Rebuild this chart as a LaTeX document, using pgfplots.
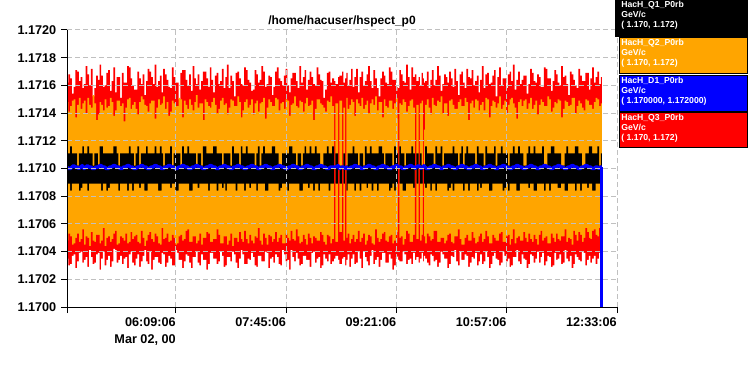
\documentclass[border=0pt]{standalone}
\usepackage{fontspec}
\setmainfont{Liberation Sans}
\usepackage{pgfplots}
\pgfplotsset{compat=1.18}
\usepackage{pgfplotstable}
\definecolor{qorange}{RGB}{255,165,0}
\definecolor{gridgray}{RGB}{192,192,192}
\pgfplotstableread{
t rh rl oh ol kh kl b
274 1.17162 1.17035 1.17148 1.17048 1.17111 1.17089 1.17101
275.5 1.17168 1.17030 1.17141 1.17053 1.17111 1.17089 1.17100
277 1.17165 1.17031 1.17145 1.17051 1.17116 1.17084 1.17100
278.5 1.17154 1.17037 1.17149 1.17045 1.17111 1.17089 1.17101
280 1.17159 1.17038 1.17150 1.17046 1.17111 1.17089 1.17102
281.5 1.17171 1.17028 1.17137 1.17050 1.17111 1.17089 1.17101
283 1.17170 1.17033 1.17146 1.17053 1.17102 1.17089 1.17101
284.5 1.17163 1.17039 1.17151 1.17047 1.17111 1.17084 1.17100
286 1.17166 1.17040 1.17143 1.17049 1.17111 1.17086 1.17101
287.5 1.17158 1.17032 1.17147 1.17056 1.17116 1.17089 1.17102
289 1.17161 1.17034 1.17149 1.17045 1.17111 1.17089 1.17100
290.5 1.17174 1.17036 1.17140 1.17051 1.17111 1.17089 1.17101
292 1.17168 1.17029 1.17151 1.17050 1.17116 1.17084 1.17102
293.5 1.17160 1.17041 1.17146 1.17044 1.17111 1.17089 1.17101
295 1.17172 1.17036 1.17144 1.17054 1.17111 1.17089 1.17101
296.5 1.17152 1.17031 1.17153 1.17048 1.17102 1.17089 1.17100
298 1.17158 1.17032 1.17147 1.17047 1.17111 1.17089 1.17100
299.5 1.17167 1.17038 1.17135 1.17052 1.17111 1.17089 1.17101
301 1.17164 1.17039 1.17139 1.17052 1.17102 1.17089 1.17101
302.5 1.17175 1.17027 1.17148 1.17046 1.17116 1.17089 1.17102
304 1.17167 1.17035 1.17146 1.17048 1.17116 1.17084 1.17102
305.5 1.17159 1.17040 1.17142 1.17057 1.17111 1.17089 1.17101
307 1.17160 1.17030 1.17150 1.17044 1.17111 1.17089 1.17101
308.5 1.17169 1.17034 1.17144 1.17050 1.17111 1.17084 1.17100
310 1.17171 1.17037 1.17145 1.17051 1.17111 1.17086 1.17100
311.5 1.17156 1.17029 1.17151 1.17047 1.17111 1.17089 1.17101
313 1.17163 1.17033 1.17148 1.17049 1.17111 1.17089 1.17101
314.5 1.17173 1.17042 1.17138 1.17053 1.17116 1.17089 1.17102
316 1.17155 1.17041 1.17142 1.17055 1.17116 1.17089 1.17102
317.5 1.17166 1.17032 1.17149 1.17045 1.17111 1.17089 1.17101
319 1.17166 1.17034 1.17149 1.17046 1.17102 1.17084 1.17101
320.5 1.17151 1.17037 1.17145 1.17051 1.17111 1.17089 1.17100
322 1.17169 1.17031 1.17147 1.17050 1.17111 1.17089 1.17100
323.5 1.17162 1.17035 1.17134 1.17048 1.17111 1.17089 1.17101
325 1.17162 1.17036 1.17144 1.17053 1.17111 1.17089 1.17101
326.5 1.17174 1.17028 1.17150 1.17046 1.17111 1.17084 1.17102
328 1.17173 1.17038 1.17151 1.17047 1.17116 1.17089 1.17102
329.5 1.17165 1.17040 1.17143 1.17054 1.17111 1.17089 1.17101
331 1.17160 1.17032 1.17146 1.17049 1.17111 1.17084 1.17101
332.5 1.17157 1.17030 1.17148 1.17051 1.17102 1.17089 1.17100
334 1.17157 1.17035 1.17143 1.17052 1.17111 1.17089 1.17100
335.5 1.17170 1.17038 1.17139 1.17047 1.17116 1.17089 1.17101
337 1.17165 1.17029 1.17148 1.17046 1.17102 1.17086 1.17101
338.5 1.17161 1.17033 1.17152 1.17055 1.17111 1.17089 1.17102
340 1.17168 1.17037 1.17150 1.17050 1.17111 1.17089 1.17102
341.5 1.17153 1.17041 1.17146 1.17044 1.17111 1.17084 1.17101
343 1.17163 1.17033 1.17145 1.17048 1.17116 1.17084 1.17101
344.5 1.17172 1.17031 1.17141 1.17052 1.17111 1.17089 1.17100
346 1.17170 1.17040 1.17147 1.17054 1.17111 1.17089 1.17100
347.5 1.17166 1.17027 1.17149 1.17049 1.17111 1.17089 1.17101
349 1.17161 1.17034 1.17149 1.17047 1.17111 1.17089 1.17101
350.5 1.17175 1.17036 1.17136 1.17053 1.17116 1.17089 1.17102
352 1.17159 1.17036 1.17144 1.17051 1.17111 1.17089 1.17102
353.5 1.17163 1.17032 1.17150 1.17046 1.17111 1.17084 1.17101
355 1.17167 1.17031 1.17146 1.17045 1.17116 1.17084 1.17101
356.5 1.17155 1.17039 1.17147 1.17057 1.17111 1.17089 1.17100
358 1.17172 1.17038 1.17152 1.17049 1.17102 1.17089 1.17100
359.5 1.17168 1.17029 1.17143 1.17050 1.17111 1.17089 1.17101
361 1.17164 1.17032 1.17148 1.17053 1.17111 1.17089 1.17101
362.5 1.17159 1.17037 1.17138 1.17047 1.17111 1.17089 1.17102
364 1.17158 1.17035 1.17141 1.17048 1.17116 1.17086 1.17102
365.5 1.17173 1.17030 1.17149 1.17052 1.17102 1.17089 1.17101
367 1.17166 1.17030 1.17147 1.17050 1.17111 1.17089 1.17101
368.5 1.17162 1.17041 1.17145 1.17045 1.17111 1.17084 1.17100
370 1.17162 1.17039 1.17145 1.17046 1.17111 1.17084 1.17100
371.5 1.17150 1.17034 1.17151 1.17051 1.17111 1.17089 1.17101
373 1.17169 1.17034 1.17150 1.17052 1.17102 1.17089 1.17101
374.5 1.17171 1.17028 1.17137 1.17048 1.17116 1.17089 1.17102
376 1.17171 1.17033 1.17149 1.17049 1.17111 1.17089 1.17102
377.5 1.17164 1.17038 1.17146 1.17055 1.17111 1.17089 1.17101
379 1.17160 1.17037 1.17143 1.17056 1.17116 1.17089 1.17101
380.5 1.17168 1.17032 1.17150 1.17047 1.17111 1.17084 1.17100
382 1.17156 1.17028 1.17146 1.17047 1.17111 1.17084 1.17100
383.5 1.17174 1.17036 1.17142 1.17051 1.17111 1.17089 1.17101
385 1.17165 1.17036 1.17148 1.17051 1.17111 1.17089 1.17101
386.5 1.17161 1.17040 1.17153 1.17046 1.17102 1.17089 1.17102
388 1.17168 1.17032 1.17144 1.17048 1.17111 1.17086 1.17102
389.5 1.17157 1.17030 1.17147 1.17053 1.17111 1.17089 1.17101
391 1.17163 1.17038 1.17147 1.17045 1.17102 1.17089 1.17101
392.5 1.17170 1.17034 1.17135 1.17050 1.17116 1.17089 1.17100
394 1.17170 1.17034 1.17150 1.17050 1.17116 1.17089 1.17100
395.5 1.17165 1.17027 1.17148 1.17054 1.17111 1.17089 1.17101
397 1.17159 1.17031 1.17145 1.17053 1.17111 1.17084 1.17101
398.5 1.17173 1.17039 1.17144 1.17047 1.17111 1.17089 1.17102
400 1.17164 1.17039 1.17148 1.17047 1.17111 1.17089 1.17102
401.5 1.17155 1.17035 1.17151 1.17049 1.17116 1.17089 1.17101
403 1.17167 1.17035 1.17146 1.17049 1.17116 1.17089 1.17101
404.5 1.17169 1.17031 1.17140 1.17056 1.17111 1.17084 1.17100
406 1.17161 1.17033 1.17143 1.17052 1.17111 1.17089 1.17100
407.5 1.17163 1.17040 1.17149 1.17046 1.17111 1.17089 1.17101
409 1.17172 1.17037 1.17151 1.17046 1.17102 1.17086 1.17101
410.5 1.17158 1.17029 1.17146 1.17051 1.17111 1.17089 1.17102
412 1.17166 1.17030 1.17147 1.17051 1.17111 1.17084 1.17102
413.5 1.17175 1.17036 1.17139 1.17045 1.17111 1.17089 1.17101
415 1.17158 1.17036 1.17144 1.17048 1.17111 1.17089 1.17101
416.5 1.17167 1.17033 1.17150 1.17053 1.17102 1.17089 1.17100
418 1.17163 1.17040 1.17149 1.17044 1.17116 1.17089 1.17100
419.5 1.17152 1.17038 1.17145 1.17050 1.17111 1.17089 1.17101
421 1.17169 1.17032 1.17145 1.17050 1.17111 1.17084 1.17101
422.5 1.17170 1.17028 1.17152 1.17047 1.17111 1.17089 1.17102
424 1.17165 1.17035 1.17148 1.17054 1.17102 1.17089 1.17102
425.5 1.17161 1.17041 1.17137 1.17049 1.17116 1.17089 1.17101
427 1.17160 1.17038 1.17142 1.17047 1.17111 1.17089 1.17101
428.5 1.17173 1.17031 1.17148 1.17055 1.17111 1.17084 1.17100
430 1.17171 1.17031 1.17150 1.17049 1.17116 1.17089 1.17100
431.5 1.17164 1.17035 1.17144 1.17046 1.17111 1.17089 1.17101
433 1.17162 1.17034 1.17146 1.17052 1.17111 1.17086 1.17101
434.5 1.17156 1.17039 1.17150 1.17048 1.17111 1.17089 1.17102
436 1.17157 1.17036 1.17139 1.17046 1.17111 1.17089 1.17102
437.5 1.17171 1.17030 1.17147 1.17051 1.17102 1.17089 1.17101
439 1.17168 1.17029 1.17149 1.17050 1.17111 1.17084 1.17101
440.5 1.17162 1.17037 1.17141 1.17057 1.17116 1.17089 1.17100
442 1.17164 1.17037 1.17147 1.17048 1.17102 1.17089 1.17100
443.5 1.17174 1.17033 1.17148 1.17045 1.17111 1.17089 1.17101
445 1.17170 1.17033 1.17151 1.17053 1.17116 1.17089 1.17101
446.5 1.17159 1.17040 1.17136 1.17050 1.17111 1.17084 1.17102
448 1.17161 1.17039 1.17144 1.17045 1.17111 1.17084 1.17102
449.5 1.17167 1.17028 1.17150 1.17052 1.17111 1.17089 1.17101
451 1.17166 1.17035 1.17148 1.17051 1.17111 1.17089 1.17101
452.5 1.17153 1.17036 1.17145 1.17047 1.17116 1.17089 1.17100
454 1.17159 1.17032 1.17145 1.17049 1.17116 1.17089 1.17100
455.5 1.17170 1.17038 1.17151 1.17054 1.17111 1.17089 1.17101
457 1.17173 1.17036 1.17150 1.17047 1.17111 1.17089 1.17101
458.5 1.17165 1.17031 1.17142 1.17050 1.17102 1.17084 1.17102
460 1.17163 1.17030 1.17147 1.17052 1.17102 1.17086 1.17102
461.5 1.17160 1.17041 1.17148 1.17046 1.17111 1.17089 1.17101
463 1.17167 1.17038 1.17143 1.17046 1.17111 1.17089 1.17101
464.5 1.17172 1.17033 1.17150 1.17053 1.17111 1.17089 1.17100
466 1.17160 1.17034 1.17149 1.17050 1.17111 1.17084 1.17100
467.5 1.17155 1.17027 1.17138 1.17048 1.17116 1.17089 1.17101
469 1.17165 1.17041 1.17146 1.17055 1.17116 1.17089 1.17101
470.5 1.17169 1.17036 1.17147 1.17049 1.17111 1.17089 1.17102
472 1.17169 1.17033 1.17152 1.17048 1.17111 1.17089 1.17102
473.5 1.17163 1.17039 1.17145 1.17056 1.17102 1.17089 1.17101
475 1.17158 1.17035 1.17144 1.17051 1.17111 1.17089 1.17101
476.5 1.17174 1.17030 1.17149 1.17046 1.17111 1.17084 1.17100
478 1.17162 1.17031 1.17148 1.17047 1.17102 1.17084 1.17100
479.5 1.17166 1.17037 1.17141 1.17052 1.17111 1.17089 1.17101
481 1.17171 1.17037 1.17147 1.17049 1.17116 1.17089 1.17101
482.5 1.17157 1.17034 1.17151 1.17045 1.17111 1.17089 1.17102
484 1.17164 1.17034 1.17145 1.17053 1.17111 1.17086 1.17102
485.5 1.17170 1.17029 1.17146 1.17050 1.17116 1.17089 1.17101
487 1.17166 1.17039 1.17149 1.17046 1.17111 1.17089 1.17101
488.5 1.17161 1.17040 1.17135 1.17051 1.17111 1.17084 1.17100
490 1.17160 1.17032 1.17143 1.17050 1.17116 1.17089 1.17100
491.5 1.17173 1.17035 1.17150 1.17048 1.17111 1.17089 1.17101
493 1.17168 1.17036 1.17150 1.17048 1.17111 1.17084 1.17101
494.5 1.17164 1.17028 1.17147 1.17054 1.17102 1.17089 1.17102
496 1.17163 1.17030 1.17146 1.17052 1.17102 1.17089 1.17102
497.5 1.17151 1.17038 1.17144 1.17047 1.17111 1.17089 1.17101
499 1.17157 1.17035 1.17141 1.17045 1.17111 1.17089 1.17101
500.5 1.17169 1.17033 1.17149 1.17052 1.17116 1.17089 1.17100
502 1.17170 1.17038 1.17148 1.17051 1.17111 1.17084 1.17100
503.5 1.17162 1.17031 1.17152 1.17046 1.17111 1.17089 1.17101
505 1.17165 1.17033 1.17145 1.17049 1.17116 1.17089 1.17101
506.8 1.17163 1.17035 1.17100 1.17100 1.17100 1.17100 1.17101
507.9 1.17161 1.17037 1.17147 1.17047 1.17111 1.17089 1.17101
510.3 1.17166 1.17034 1.17100 1.17100 1.17100 1.17100 1.17102
511.4 1.17167 1.17031 1.17149 1.17054 1.17102 1.17089 1.17100
513.8 1.17170 1.17035 1.17100 1.17100 1.17100 1.17100 1.17101
514.9 1.17162 1.17036 1.17144 1.17048 1.17111 1.17089 1.17101
516.4 1.17165 1.17030 1.17100 1.17100 1.17100 1.17100 1.17100
517.5 1.17169 1.17034 1.17151 1.17050 1.17102 1.17084 1.17101
518.5 1.17160 1.17038 1.17143 1.17053 1.17111 1.17089 1.17100
520 1.17164 1.17029 1.17146 1.17046 1.17111 1.17089 1.17100
521.5 1.17172 1.17035 1.17150 1.17049 1.17111 1.17089 1.17101
523 1.17159 1.17038 1.17148 1.17052 1.17116 1.17089 1.17101
524.5 1.17166 1.17031 1.17138 1.17047 1.17111 1.17084 1.17102
526 1.17172 1.17032 1.17150 1.17049 1.17111 1.17089 1.17102
527.5 1.17155 1.17040 1.17147 1.17055 1.17102 1.17089 1.17101
529 1.17166 1.17035 1.17145 1.17047 1.17111 1.17084 1.17101
530.5 1.17170 1.17028 1.17151 1.17050 1.17111 1.17089 1.17100
532 1.17160 1.17040 1.17143 1.17053 1.17102 1.17089 1.17100
533.5 1.17163 1.17036 1.17146 1.17045 1.17116 1.17089 1.17101
535 1.17168 1.17033 1.17149 1.17048 1.17111 1.17086 1.17101
536.5 1.17174 1.17030 1.17140 1.17052 1.17111 1.17089 1.17102
538 1.17163 1.17037 1.17147 1.17051 1.17116 1.17089 1.17102
539.5 1.17158 1.17041 1.17150 1.17046 1.17111 1.17084 1.17101
541 1.17171 1.17031 1.17146 1.17045 1.17111 1.17089 1.17101
542.5 1.17165 1.17034 1.17152 1.17056 1.17111 1.17089 1.17100
544 1.17158 1.17036 1.17142 1.17050 1.17111 1.17084 1.17100
545.5 1.17152 1.17029 1.17148 1.17047 1.17116 1.17089 1.17101
547 1.17165 1.17034 1.17148 1.17049 1.17116 1.17089 1.17101
548.5 1.17170 1.17039 1.17137 1.17053 1.17111 1.17089 1.17102
550 1.17167 1.17039 1.17150 1.17054 1.17102 1.17089 1.17102
551.5 1.17162 1.17032 1.17145 1.17048 1.17111 1.17089 1.17101
553 1.17161 1.17032 1.17144 1.17047 1.17111 1.17089 1.17101
554.5 1.17173 1.17038 1.17149 1.17051 1.17111 1.17084 1.17100
556 1.17170 1.17035 1.17149 1.17052 1.17111 1.17086 1.17100
557.5 1.17164 1.17027 1.17143 1.17046 1.17102 1.17089 1.17101
559 1.17164 1.17030 1.17147 1.17048 1.17116 1.17084 1.17101
560.5 1.17159 1.17036 1.17151 1.17054 1.17111 1.17089 1.17102
562 1.17156 1.17037 1.17136 1.17046 1.17111 1.17089 1.17102
562.6 1.17158 1.17034 1.17100 1.17100 1.17100 1.17100 1.17101
563.5 1.17171 1.17033 1.17147 1.17050 1.17116 1.17089 1.17101
565 1.17168 1.17033 1.17146 1.17051 1.17111 1.17089 1.17101
566.5 1.17163 1.17040 1.17150 1.17045 1.17111 1.17084 1.17100
568 1.17162 1.17038 1.17148 1.17049 1.17102 1.17084 1.17100
569.5 1.17175 1.17031 1.17141 1.17055 1.17111 1.17089 1.17101
571 1.17166 1.17034 1.17145 1.17053 1.17111 1.17089 1.17101
572.5 1.17157 1.17035 1.17149 1.17047 1.17111 1.17089 1.17102
574 1.17173 1.17031 1.17150 1.17047 1.17116 1.17089 1.17102
575.5 1.17166 1.17039 1.17144 1.17052 1.17111 1.17086 1.17101
577 1.17160 1.17036 1.17143 1.17050 1.17111 1.17089 1.17101
577.2 1.17168 1.17034 1.17100 1.17100 1.17100 1.17100 1.17100
578.3 1.17163 1.17036 1.17146 1.17049 1.17111 1.17089 1.17101
580.4 1.17166 1.17032 1.17100 1.17100 1.17100 1.17100 1.17102
581.5 1.17160 1.17035 1.17147 1.17048 1.17111 1.17089 1.17101
583 1.17169 1.17039 1.17149 1.17052 1.17102 1.17089 1.17100
584 1.17165 1.17033 1.17100 1.17100 1.17100 1.17100 1.17101
585 1.17162 1.17037 1.17128 1.17051 1.17102 1.17089 1.17102
586 1.17163 1.17035 1.17146 1.17046 1.17116 1.17086 1.17101
587.5 1.17170 1.17032 1.17150 1.17053 1.17111 1.17089 1.17100
589 1.17158 1.17030 1.17144 1.17051 1.17111 1.17089 1.17100
590.5 1.17164 1.17038 1.17139 1.17048 1.17111 1.17084 1.17101
592 1.17171 1.17037 1.17151 1.17049 1.17111 1.17089 1.17101
593.5 1.17160 1.17033 1.17146 1.17055 1.17102 1.17089 1.17102
595 1.17164 1.17034 1.17145 1.17055 1.17116 1.17084 1.17102
596.5 1.17174 1.17029 1.17149 1.17047 1.17111 1.17089 1.17101
598 1.17167 1.17032 1.17148 1.17047 1.17111 1.17089 1.17101
599.5 1.17156 1.17040 1.17152 1.17050 1.17116 1.17089 1.17100
601 1.17161 1.17038 1.17140 1.17050 1.17102 1.17089 1.17100
602.5 1.17168 1.17035 1.17147 1.17046 1.17111 1.17089 1.17101
604 1.17166 1.17035 1.17147 1.17048 1.17111 1.17089 1.17101
605.5 1.17162 1.17028 1.17138 1.17052 1.17111 1.17084 1.17102
607 1.17170 1.17031 1.17149 1.17053 1.17111 1.17086 1.17102
608.5 1.17165 1.17037 1.17150 1.17047 1.17111 1.17089 1.17101
610 1.17159 1.17036 1.17146 1.17046 1.17116 1.17084 1.17101
611.5 1.17172 1.17041 1.17143 1.17051 1.17111 1.17089 1.17100
613 1.17163 1.17033 1.17143 1.17051 1.17111 1.17089 1.17100
614.5 1.17153 1.17030 1.17148 1.17056 1.17102 1.17089 1.17101
616 1.17168 1.17040 1.17150 1.17049 1.17111 1.17089 1.17101
617.5 1.17170 1.17034 1.17145 1.17045 1.17116 1.17089 1.17102
619 1.17162 1.17034 1.17145 1.17045 1.17102 1.17084 1.17102
620.5 1.17158 1.17038 1.17151 1.17050 1.17111 1.17089 1.17101
622 1.17172 1.17037 1.17148 1.17052 1.17116 1.17089 1.17101
623.5 1.17166 1.17029 1.17135 1.17048 1.17111 1.17084 1.17100
625 1.17165 1.17032 1.17147 1.17048 1.17111 1.17089 1.17100
626.5 1.17171 1.17036 1.17149 1.17054 1.17111 1.17089 1.17101
628 1.17160 1.17035 1.17144 1.17050 1.17111 1.17089 1.17101
629.5 1.17163 1.17039 1.17150 1.17046 1.17102 1.17089 1.17102
631 1.17167 1.17030 1.17149 1.17047 1.17116 1.17084 1.17102
632.5 1.17155 1.17033 1.17142 1.17051 1.17111 1.17089 1.17101
634 1.17164 1.17038 1.17146 1.17053 1.17111 1.17086 1.17101
635.5 1.17174 1.17031 1.17148 1.17047 1.17111 1.17089 1.17100
637 1.17158 1.17033 1.17142 1.17049 1.17102 1.17089 1.17100
638.5 1.17168 1.17040 1.17151 1.17055 1.17116 1.17089 1.17101
640 1.17169 1.17036 1.17150 1.17051 1.17111 1.17089 1.17101
641.5 1.17161 1.17028 1.17137 1.17046 1.17111 1.17084 1.17102
643 1.17162 1.17031 1.17145 1.17046 1.17111 1.17084 1.17102
644.5 1.17167 1.17037 1.17149 1.17052 1.17111 1.17089 1.17101
646 1.17171 1.17039 1.17148 1.17050 1.17116 1.17089 1.17101
647.5 1.17152 1.17035 1.17144 1.17048 1.17102 1.17089 1.17100
649 1.17166 1.17034 1.17147 1.17048 1.17111 1.17089 1.17100
650.5 1.17173 1.17030 1.17152 1.17053 1.17111 1.17089 1.17101
652 1.17160 1.17032 1.17143 1.17054 1.17116 1.17089 1.17101
653.5 1.17165 1.17040 1.17146 1.17047 1.17111 1.17084 1.17102
655 1.17165 1.17037 1.17149 1.17047 1.17111 1.17086 1.17102
656.5 1.17158 1.17033 1.17140 1.17051 1.17111 1.17089 1.17101
658 1.17168 1.17035 1.17146 1.17052 1.17102 1.17084 1.17101
659.5 1.17170 1.17029 1.17150 1.17045 1.17111 1.17089 1.17100
661 1.17163 1.17030 1.17151 1.17049 1.17111 1.17089 1.17100
662.5 1.17175 1.17036 1.17147 1.17056 1.17116 1.17089 1.17101
664 1.17157 1.17036 1.17144 1.17046 1.17111 1.17089 1.17101
665.5 1.17164 1.17041 1.17136 1.17050 1.17111 1.17084 1.17102
667 1.17170 1.17033 1.17148 1.17051 1.17116 1.17084 1.17102
668.5 1.17161 1.17031 1.17150 1.17048 1.17111 1.17089 1.17101
670 1.17164 1.17038 1.17145 1.17048 1.17111 1.17089 1.17101
671.5 1.17167 1.17035 1.17149 1.17054 1.17102 1.17089 1.17100
673 1.17167 1.17034 1.17150 1.17050 1.17102 1.17089 1.17100
674.5 1.17154 1.17028 1.17143 1.17047 1.17111 1.17089 1.17101
676 1.17161 1.17031 1.17147 1.17053 1.17116 1.17086 1.17101
677.5 1.17172 1.17038 1.17151 1.17049 1.17111 1.17089 1.17102
679 1.17169 1.17037 1.17143 1.17047 1.17111 1.17089 1.17102
680.5 1.17163 1.17032 1.17146 1.17052 1.17116 1.17084 1.17101
682 1.17162 1.17035 1.17149 1.17049 1.17111 1.17084 1.17101
683.5 1.17168 1.17040 1.17139 1.17045 1.17111 1.17089 1.17100
685 1.17166 1.17032 1.17146 1.17052 1.17111 1.17089 1.17100
686.5 1.17159 1.17036 1.17150 1.17055 1.17111 1.17089 1.17101
688 1.17159 1.17039 1.17148 1.17048 1.17116 1.17089 1.17101
689.5 1.17173 1.17030 1.17145 1.17050 1.17102 1.17084 1.17102
691 1.17172 1.17033 1.17145 1.17051 1.17102 1.17089 1.17102
692.5 1.17165 1.17037 1.17152 1.17046 1.17111 1.17089 1.17101
694 1.17165 1.17036 1.17150 1.17046 1.17111 1.17084 1.17101
695.5 1.17156 1.17029 1.17141 1.17053 1.17116 1.17089 1.17100
697 1.17163 1.17030 1.17144 1.17050 1.17116 1.17089 1.17100
698.5 1.17171 1.17039 1.17148 1.17047 1.17111 1.17089 1.17101
700 1.17168 1.17034 1.17147 1.17053 1.17111 1.17089 1.17101
701.5 1.17162 1.17035 1.17150 1.17049 1.17111 1.17086 1.17102
703 1.17160 1.17038 1.17149 1.17048 1.17111 1.17086 1.17102
704.5 1.17174 1.17031 1.17137 1.17051 1.17102 1.17089 1.17101
706 1.17166 1.17032 1.17143 1.17051 1.17102 1.17089 1.17101
707.5 1.17167 1.17041 1.17149 1.17056 1.17111 1.17084 1.17100
709 1.17161 1.17035 1.17148 1.17047 1.17116 1.17084 1.17100
710.5 1.17153 1.17033 1.17145 1.17050 1.17111 1.17089 1.17101
712 1.17170 1.17037 1.17146 1.17049 1.17111 1.17089 1.17101
713.5 1.17168 1.17028 1.17151 1.17045 1.17111 1.17089 1.17102
715 1.17164 1.17031 1.17151 1.17055 1.17111 1.17089 1.17102
716.5 1.17160 1.17038 1.17140 1.17052 1.17116 1.17084 1.17101
718 1.17158 1.17036 1.17145 1.17048 1.17116 1.17089 1.17101
719.5 1.17172 1.17034 1.17149 1.17054 1.17111 1.17089 1.17100
721 1.17167 1.17033 1.17147 1.17052 1.17111 1.17084 1.17100
722.5 1.17163 1.17040 1.17144 1.17047 1.17102 1.17089 1.17101
724 1.17163 1.17039 1.17142 1.17050 1.17102 1.17089 1.17101
725.5 1.17169 1.17030 1.17150 1.17057 1.17111 1.17089 1.17102
727 1.17169 1.17034 1.17149 1.17054 1.17111 1.17086 1.17102
728.5 1.17157 1.17037 1.17146 1.17050 1.17116 1.17089 1.17101
730 1.17165 1.17032 1.17146 1.17049 1.17116 1.17089 1.17101
731.5 1.17173 1.17035 1.17143 1.17055 1.17111 1.17084 1.17100
733 1.17162 1.17037 1.17148 1.17056 1.17111 1.17084 1.17100
734.5 1.17166 1.17031 1.17151 1.17052 1.17111 1.17089 1.17101
736 1.17170 1.17035 1.17150 1.17051 1.17116 1.17089 1.17101
737.5 1.17161 1.17039 1.17145 1.17057 1.17102 1.17089 1.17100
739 1.17166 1.17033 1.17147 1.17053 1.17111 1.17089 1.17101
740 1.17166 1.17033 1.17147 1.17053 1.17111 1.17089 1.17101
}\data

\begin{document}
\begin{tikzpicture}
\useasboundingbox (0,0) rectangle (561pt,281.25pt);
\begin{axis}[
  at={(50.25pt,51pt)}, anchor=south west,
  width=412.5pt, height=207.75pt, scale only axis,
  xmin=274.2, xmax=753.1, ymin=1.1700, ymax=1.1720,
  axis x line*=bottom, axis y line*=left,
  axis line style={black, line width=0.75pt, -},
  grid=major,
  grid style={gridgray, dash pattern=on 3.75pt off 2.25pt, line width=0.75pt},
  axis on top,
  tick align=outside, major tick length=4.5pt,
  tick style={black, line width=0.75pt},
  xtick={274.2,369.1,465.1,561.1,657.1,753.1},
  xticklabels={,{06:09:06\\Mar 02, 00},07:45:06,09:21:06,10:57:06,12:33:06},
  xticklabel style={anchor=north east, align=right, inner xsep=0pt,
    font=\fontsize{9.5}{12.75}\selectfont\bfseries},
  ytick={1.1700,1.1702,1.1704,1.1706,1.1708,1.1710,1.1712,1.1714,1.1716,1.1718,1.1720},
  yticklabels={1.1700,1.1702,1.1704,1.1706,1.1708,1.1710,1.1712,1.1714,1.1716,1.1718,1.1720},
  yticklabel style={font=\fontsize{9.5}{12}\selectfont\bfseries},
  clip=true,
]
% layered bands: each area filled from its edge down to below the axis
\addplot[fill=red, draw=none, const plot, forget plot] table[x=t, y=rh] {\data}
  -- (axis cs:740,1.1695) -- (axis cs:274,1.1695) -- cycle;
\addplot[fill=qorange, draw=none, const plot, forget plot] table[x=t, y=oh] {\data}
  -- (axis cs:740,1.1695) -- (axis cs:274,1.1695) -- cycle;
\addplot[fill=black, draw=none, const plot, forget plot] table[x=t, y=kh] {\data}
  -- (axis cs:740,1.1695) -- (axis cs:274,1.1695) -- cycle;
\addplot[fill=qorange, draw=none, const plot, forget plot] table[x=t, y=kl] {\data}
  -- (axis cs:740,1.1695) -- (axis cs:274,1.1695) -- cycle;
\addplot[fill=red, draw=none, const plot, forget plot] table[x=t, y=ol] {\data}
  -- (axis cs:740,1.1695) -- (axis cs:274,1.1695) -- cycle;
\addplot[fill=white, draw=none, const plot, forget plot] table[x=t, y=rl] {\data}
  -- (axis cs:740,1.1695) -- (axis cs:274,1.1695) -- cycle;
\addplot[blue, line width=2.6pt, line join=round, forget plot] table[x=t, y=b] {\data};
\addplot[blue, line width=2.25pt, forget plot] coordinates {(740,1.17101) (740,1.16990)};
\end{axis}
% title
\node[anchor=base, inner sep=0pt, font=\fontsize{9}{11}\selectfont\bfseries] at (256.5pt,262.5pt) {/home/hacuser/hspect\_p0};
% legend boxes
\fill[black] (461.25pt,253.5pt) rectangle (561pt,281.25pt);
\filldraw[fill=qorange, draw=black, line width=0.75pt] (464.25pt,225.75pt) rectangle (560.25pt,252.75pt);
\filldraw[fill=blue, draw=black, line width=0.75pt] (464.25pt,197.25pt) rectangle (560.25pt,224.25pt);
\filldraw[fill=red, draw=black, line width=0.75pt] (464.25pt,170.25pt) rectangle (560.25pt,196.5pt);
\begin{scope}[every node/.style={anchor=base west, inner sep=0pt, text=white, font=\fontsize{6.5}{7.5}\selectfont\bfseries}]
\node at (465.75pt,275.25pt) {HacH\_Q1\_P0rb};
\node at (465.75pt,267.75pt) {GeV/c};
\node at (465.75pt,260.25pt) {( 1.170, 1.172)};
\node at (465.75pt,246.75pt) {HacH\_Q2\_P0rb};
\node at (465.75pt,239.25pt) {GeV/c};
\node at (465.75pt,231.75pt) {( 1.170, 1.172)};
\node at (465.75pt,218.25pt) {HacH\_D1\_P0rb};
\node at (465.75pt,210.75pt) {GeV/c};
\node at (465.75pt,203.25pt) {( 1.170000, 1.172000)};
\node at (465.75pt,190.5pt) {HacH\_Q3\_P0rb};
\node at (465.75pt,183pt) {GeV/c};
\node at (465.75pt,175.5pt) {( 1.170, 1.172)};
\end{scope}
\end{tikzpicture}
\end{document}
